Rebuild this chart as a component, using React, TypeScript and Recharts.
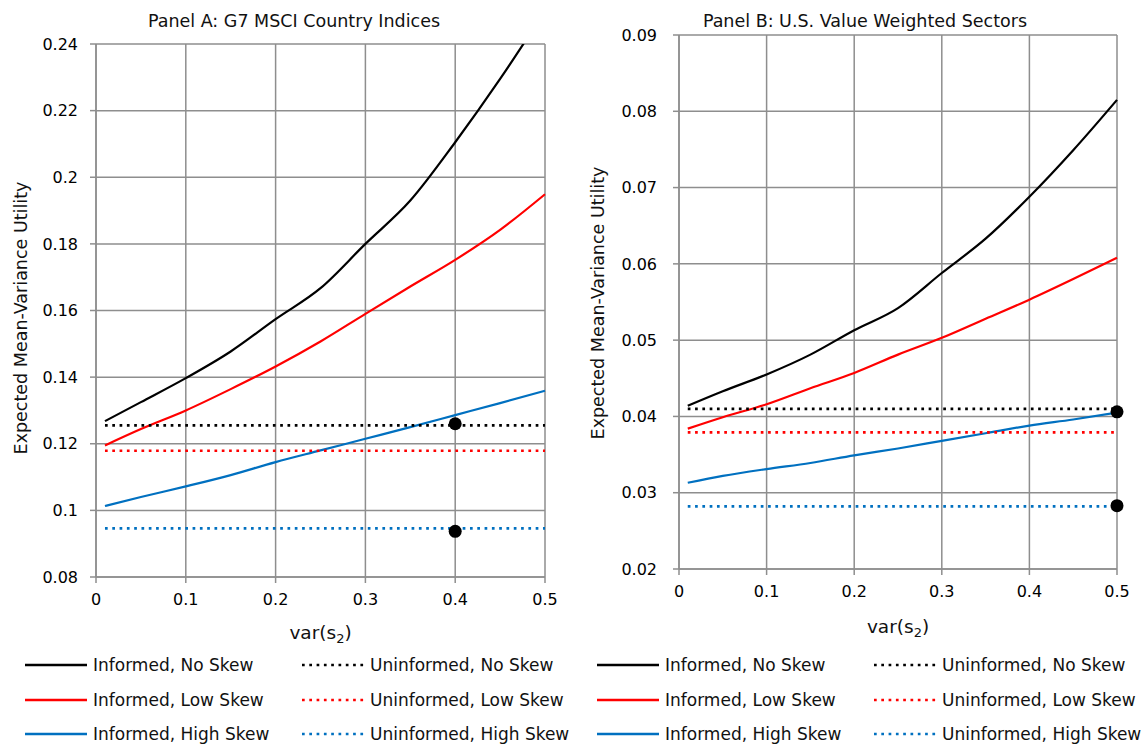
import { ComposedChart, Line, Scatter, XAxis, YAxis, CartesianGrid } from "recharts"

// var(s2) grid shared by every curve
const varS2 = [0.01, 0.05, 0.1, 0.15, 0.2, 0.25, 0.3, 0.35, 0.4, 0.45, 0.5]

// Panel A: G7 MSCI Country Indices
const informedNoSkewA = [0.1268, 0.1325, 0.1397, 0.1477, 0.1574, 0.1667, 0.18, 0.193, 0.2105, 0.2295, 0.25]
const informedLowSkewA = [0.1195, 0.1244, 0.13, 0.1364, 0.1432, 0.1507, 0.159, 0.1672, 0.1752, 0.1842, 0.1949]
const informedHighSkewA = [0.1013, 0.104, 0.1072, 0.1106, 0.1145, 0.118, 0.1215, 0.125, 0.1286, 0.1322, 0.1359]
const uninformedA = [0.1255, 0.1179, 0.0946] // no, low, high skew
const markersA = [
  { x: 0.4, y: 0.126 },
  { x: 0.4, y: 0.0937 },
]
const yTicksA = [0.08, 0.1, 0.12, 0.14, 0.16, 0.18, 0.2, 0.22, 0.24]

// Panel B: U.S. Value Weighted Sectors
const informedNoSkewB = [0.0414, 0.0433, 0.0455, 0.0481, 0.0513, 0.0542, 0.0588, 0.0633, 0.0688, 0.0749, 0.0815]
const informedLowSkewB = [0.0384, 0.0399, 0.0416, 0.0437, 0.0457, 0.0481, 0.0503, 0.0528, 0.0553, 0.058, 0.0608]
const informedHighSkewB = [0.0313, 0.0322, 0.0331, 0.0339, 0.0349, 0.0358, 0.0368, 0.0378, 0.0388, 0.0396, 0.0405]
const uninformedB = [0.041, 0.0379, 0.0282]
const markersB = [
  { x: 0.5, y: 0.0406 },
  { x: 0.5, y: 0.0283 },
]
const yTicksB = [0.02, 0.03, 0.04, 0.05, 0.06, 0.07, 0.08, 0.09]

const xTicks = [0, 0.1, 0.2, 0.3, 0.4, 0.5]
const skewNames = ["No Skew", "Low Skew", "High Skew"]
const colors = ["#000000", "#ff0000", "#0070c0"]

const FONT = '"DejaVu Sans", sans-serif'
const GRID = "#8e8e8e"

type PanelProps = {
  left: number
  title: string
  titleX: number
  informed: number[][]
  uninformed: number[]
  markers: { x: number; y: number }[]
  yTicks: number[]
  plotTop: number
  plotBottom: number
  yAxisWidth: number
  yLabelX: number
  yLabelY: number
  xLabelY: number
  tickGap: number
  clip: boolean
}

const W = 571

function Panel(p: PanelProps) {
  const rows = varS2.map((x, i) => {
    const row: Record<string, number> = { x }
    p.informed.forEach((s, k) => (row["inf" + k] = s[i]))
    p.uninformed.forEach((v, k) => (row["uni" + k] = v))
    return row
  })
  const xAxisHeight = 43
  const height = p.plotBottom + xAxisHeight
  const plotLeft = p.yAxisWidth
  const plotRight = W - 26
  const plotCenter = (plotLeft + plotRight) / 2

  return (
    <div style={{ position: "absolute", left: p.left, top: 0, width: W, height: 744 }}>
      <div
        style={{
          position: "absolute",
          left: p.titleX - 250,
          width: 500,
          top: 11,
          textAlign: "center",
          fontSize: 17.5,
          lineHeight: "20px",
          fontFamily: FONT,
          color: "#111",
        }}
      >
        {p.title}
      </div>
      <ComposedChart
        width={W}
        height={height}
        data={rows}
        margin={{ top: p.plotTop, right: W - plotRight, left: 0, bottom: 0 }}
        style={{ position: "absolute", left: 0, top: 0 }}
      >
        <CartesianGrid stroke={GRID} strokeWidth={1.5} />
        <XAxis
          dataKey="x"
          type="number"
          domain={[0, 0.5]}
          ticks={xTicks}
          height={xAxisHeight}
          stroke={GRID}
          strokeWidth={1.5}
          tickSize={6}
          tickMargin={11}
          tick={{ fontSize: 16, fill: "#000", fontFamily: FONT }}
        />
        <YAxis
          type="number"
          domain={[p.yTicks[0], p.yTicks[p.yTicks.length - 1]]}
          ticks={p.yTicks}
          allowDataOverflow={p.clip}
          width={p.yAxisWidth}
          stroke={GRID}
          strokeWidth={1.5}
          tickSize={6}
          tickMargin={p.tickGap}
          tick={{ fontSize: 16, fill: "#000", fontFamily: FONT }}
        />
        {p.informed.map((_, k) => (
          <Line
            key={"inf" + k}
            dataKey={"inf" + k}
            type="monotone"
            stroke={colors[k]}
            strokeWidth={2.2}
            dot={false}
            activeDot={false}
            isAnimationActive={false}
          />
        ))}
        {p.uninformed.map((_, k) => (
          <Line
            key={"uni" + k}
            dataKey={"uni" + k}
            type="linear"
            stroke={colors[k]}
            strokeWidth={2.7}
            strokeDasharray="2.7 4.6"
            dot={false}
            activeDot={false}
            isAnimationActive={false}
          />
        ))}
        <Scatter
          data={p.markers}
          dataKey="y"
          fill="#000"
          isAnimationActive={false}
          shape={(s: any) => <circle cx={s.cx} cy={s.cy} r={6.5} fill="#000" />}
        />
      </ComposedChart>
      <div
        style={{
          position: "absolute",
          left: p.yLabelX - 200,
          top: p.yLabelY - 11,
          width: 400,
          height: 22,
          lineHeight: "22px",
          textAlign: "center",
          transform: "rotate(-90deg)",
          fontSize: 17.5,
          fontFamily: FONT,
          color: "#111",
          whiteSpace: "nowrap",
        }}
      >
        Expected Mean-Variance Utility
      </div>
      <div
        style={{
          position: "absolute",
          left: plotCenter - 100,
          width: 200,
          top: p.xLabelY - 12,
          lineHeight: "24px",
          textAlign: "center",
          fontSize: 18.5,
          fontFamily: FONT,
          color: "#111",
        }}
      >
        var(s<sub style={{ fontSize: 13, verticalAlign: "-4px", lineHeight: 0 }}>2</sub>)
      </div>
      {skewNames.map((name, k) => (
        <div key={name}>
          {[0, 1].map((col) => (
            <div
              key={col}
              style={{
                position: "absolute",
                left: col === 0 ? 25 : 302,
                top: 665 + k * 34.5 - 11,
                height: 22,
                display: "flex",
                alignItems: "center",
                fontSize: 17,
                fontFamily: FONT,
                color: "#111",
                whiteSpace: "nowrap",
              }}
            >
              <svg width={62} height={22} style={{ marginRight: 6 }}>
                <line
                  x1={0}
                  x2={62}
                  y1={11}
                  y2={11}
                  stroke={colors[k]}
                  strokeWidth={col === 0 ? 2.6 : 2.7}
                  strokeDasharray={col === 0 ? undefined : "2.7 4.6"}
                />
              </svg>
              {(col === 0 ? "Informed, " : "Uninformed, ") + name}
            </div>
          ))}
        </div>
      ))}
    </div>
  )
}

export default function App() {
  return (
    <div style={{ position: "absolute", left: 0, top: 0, width: 1143, height: 744, background: "#fff", overflow: "hidden" }}>
      <Panel
        left={0}
        title="Panel A: G7 MSCI Country Indices"
        titleX={294}
        informed={[informedNoSkewA, informedLowSkewA, informedHighSkewA]}
        uninformed={uninformedA}
        markers={markersA}
        yTicks={yTicksA}
        plotTop={44}
        plotBottom={577}
        yAxisWidth={96}
        yLabelX={21}
        yLabelY={318}
        xLabelY={633}
        tickGap={12}
        clip={true}
      />
      <Panel
        left={572}
        title="Panel B: U.S. Value Weighted Sectors"
        titleX={865 - 572}
        informed={[informedNoSkewB, informedLowSkewB, informedHighSkewB]}
        uninformed={uninformedB}
        markers={markersB}
        yTicks={yTicksB}
        plotTop={35}
        plotBottom={569}
        yAxisWidth={107}
        yLabelX={598 - 572}
        yLabelY={303}
        xLabelY={627}
        tickGap={16}
        clip={false}
      />
    </div>
  )
}
